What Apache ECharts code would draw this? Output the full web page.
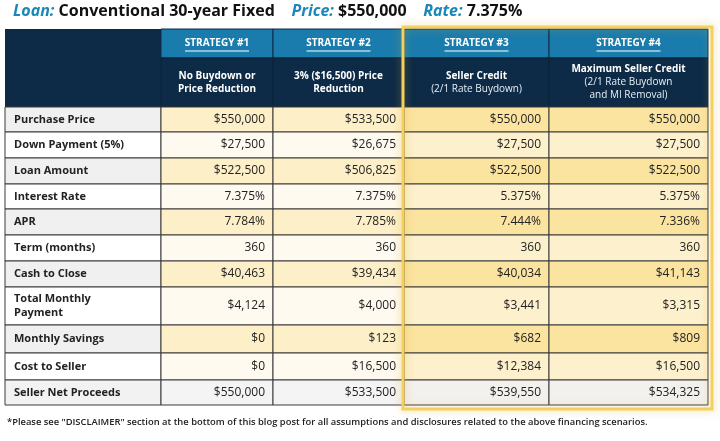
<!DOCTYPE html>
<html><head><meta charset="utf-8">
<script src="https://cdn.jsdelivr.net/npm/echarts@6/dist/echarts.min.js"></script>
<style>html,body{margin:0;padding:0;background:#fff}#c{width:720px;height:441px}</style>
</head><body><div id="c"></div>
<script>
var strategies = ['STRATEGY #1','STRATEGY #2','STRATEGY #3','STRATEGY #4'];
var descriptions = [
  ['No Buydown or','Price Reduction'],
  ['3% ($16,500) Price','Reduction'],
  ['Seller Credit','(2/1 Rate Buydown)'],
  ['Maximum Seller Credit','(2/1 Rate Buydown','and MI Removal)']
];
var rowLabels = ['Purchase Price','Down Payment (5%)','Loan Amount','Interest Rate','APR','Term (months)','Cash to Close','Total Monthly\nPayment','Monthly Savings','Cost to Seller','Seller Net Proceeds'];
var strategy1 = ['$550,000','$27,500','$522,500','7.375%','7.784%','360','$40,463','$4,124','$0','$0','$550,000'];
var strategy2 = ['$533,500','$26,675','$506,825','7.375%','7.785%','360','$39,434','$4,000','$123','$16,500','$533,500'];
var strategy3 = ['$550,000','$27,500','$522,500','5.375%','7.444%','360','$40,034','$3,441','$682','$12,384','$539,550'];
var strategy4 = ['$550,000','$27,500','$522,500','5.375%','7.336%','360','$41,143','$3,315','$809','$16,500','$534,325'];
var cols = [strategy1, strategy2, strategy3, strategy4];

var colB = [5, 161, 273, 404, 549, 708];
var rowB = [107,132,158,184,209,235,261,287,325,353,380,405];
var headTop = 29, headMid = 58;
var F = '"Open Sans", sans-serif';

var data = [];
rowLabels.forEach(function(l, r){
  data.push([0, r]);
  for (var c = 0; c < 4; c++) data.push([c+1, r]);
});

function fillFor(c, r){
  if (r === 10) return c === 0 ? '#f2f2f2' : (c >= 3 ? '#f3f1ee' : '#f4f4f4');
  var even = r % 2 === 0;
  if (c === 0) return even ? '#f0f0f0' : '#ffffff';
  if (c <= 2) return even ? '#fdf0c8' : '#fffaf0';
  return even ? '#fbe3a0' : '#fdf0cc';
}

var chart = echarts.init(document.getElementById('c'));
chart.setOption({
  animation:false,
  grid:{left:0,right:0,top:0,bottom:0},
  xAxis:{type:'value',min:0,max:720,show:false},
  yAxis:{type:'value',min:0,max:441,inverse:true,show:false},
  graphic:[
    {type:'text',left:13,top:3,style:{rich:{
      a:{fill:'#1b87b8',fontStyle:'italic',fontWeight:'bold',fontSize:16,fontFamily:F},
      b:{fill:'#111',fontWeight:'bold',fontSize:16,fontFamily:F}},
      text:'{a|Loan: }{b|Conventional 30-year Fixed}     {a|Price: }{b|$550,000}     {a|Rate: }{b|7.375%}'}},
    {type:'text',left:7,top:418,style:{text:'*Please see "DISCLAIMER" section at the bottom of this blog post for all assumptions and disclosures related to the above financing scenarios.',fill:'#222',fontSize:9.4,fontWeight:600,fontFamily:F}}
  ],
  series:[
    {
      type:'custom', data:[[0],[1],[2],[3],[4]], z:2,
      renderItem:function(p, api){
        var c = api.value(0);
        var a = api.coord([colB[c], headTop]), m = api.coord([colB[c+1], headMid]);
        var b = api.coord([colB[c+1], rowB[0]]);
        var kids = [];
        if (c === 0){
          kids.push({type:'rect',shape:{x:a[0],y:a[1],width:b[0]-a[0],height:b[1]-a[1]},style:{fill:'#0d2b47'}});
        } else {
          kids.push({type:'rect',shape:{x:a[0],y:a[1],width:m[0]-a[0],height:m[1]-a[1]},style:{fill:'#1a7cad',stroke:'#0d2b47',lineWidth:1}});
          kids.push({type:'rect',shape:{x:a[0],y:m[1],width:b[0]-a[0],height:b[1]-m[1]},style:{fill:'#0d2b47',stroke:'#0a2238',lineWidth:1}});
          var cx = (a[0]+b[0])/2;
          kids.push({type:'text',style:{x:cx,y:(a[1]+m[1])/2,text:strategies[c-1],fill:'#fff',fontWeight:'bold',fontSize:10,fontFamily:F,align:'center',verticalAlign:'middle'}});
          kids.push({type:'rect',shape:{x:cx-32,y:(a[1]+m[1])/2+7,width:64,height:1},style:{fill:'#fff'}});
          var d = descriptions[c-1];
          var rich = d.map(function(t,i){return (i===0?'{b|':'{n|')+t+'}';}).join('\n');
          if (c <= 2) rich = d.map(function(t){return '{b|'+t+'}';}).join('\n');
          kids.push({type:'text',style:{x:cx,y:(m[1]+b[1])/2,text:rich,align:'center',verticalAlign:'middle',
            rich:{b:{fill:'#fff',fontWeight:'bold',fontSize:10,fontFamily:F,lineHeight:13,align:'center'},
                  n:{fill:'#e8eef4',fontSize:10,fontFamily:F,lineHeight:13,align:'center'}}}});
        }
        return {type:'group',children:kids};
      }
    },
    {
      type:'custom', data:data, z:2,
      renderItem:function(p, api){
        var c = api.value(0), r = api.value(1);
        var a = api.coord([colB[c], rowB[r]]), b = api.coord([colB[c+1], rowB[r+1]]);
        var txt = c === 0 ? rowLabels[r] : cols[c-1][r];
        return {type:'group',children:[
          {type:'rect',shape:{x:a[0],y:a[1],width:b[0]-a[0],height:b[1]-a[1]},style:{fill:fillFor(c,r),stroke:'#3a3a3a',lineWidth:1}},
          {type:'text',style:{x:c===0?a[0]+9:b[0]-8,y:(a[1]+b[1])/2,text:txt,
            align:c===0?'left':'right',verticalAlign:'middle',fill:'#222',
            fontWeight:c===0?'bold':'normal',fontSize:c===0?11:12,lineHeight:14,fontFamily:F}}
        ]};
      }
    },
    {
      type:'custom', data:[[0]], z:5, silent:true,
      renderItem:function(p, api){
        var a = api.coord([colB[3]-1, headTop-2]), b = api.coord([colB[5]+4, rowB[11]+4]);
        return {type:'rect',shape:{x:a[0],y:a[1],width:b[0]-a[0],height:b[1]-a[1]},
          style:{fill:'none',stroke:'#f4d15e',lineWidth:3,shadowBlur:8,shadowColor:'rgba(220,170,40,0.5)'}};
      }
    }
  ]
});
</script></body></html>
